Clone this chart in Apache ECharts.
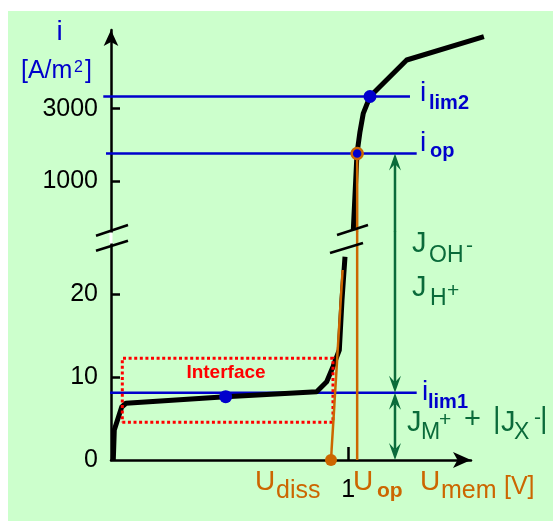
<!DOCTYPE html>
<html><head><meta charset="utf-8">
<script src="https://cdn.jsdelivr.net/npm/echarts@6/dist/echarts.min.js"></script>
<style>html,body{margin:0;padding:0;background:#fff}#c{width:553px;height:521px}</style>
</head><body><div id="c"></div>
<script>
// ---- data ----
const curveLowX = [0.0097, 0.0139, 0.0451, 0.0632, 0.4836, 0.8673, 0.9095, 0.9361, 0.9627, 0.9740, 0.9867];
const curveLowY = [0, 3.61, 6.38, 6.83, 7.62, 8.22, 9.42, 11.23, 13.24, 19.26, 24.47];
const curveHighX = [1.0217, 1.0373, 1.0499, 1.0638, 1.0921, 1.2468, 1.5723];
const curveHighY = [-345, 1765, 2366, 2873, 3337, 4343, 4986];
const iLim1 = 8.1, iOp = 1765, iLim2 = 3337;
const uDiss = 0.9276, uOp = 1.038;
const lim1LineX = [-0.004, 1.289];
const opLineX = [-0.0211, 1.289];
const lim2LineX = [-0.0325, 1.2607];
const ohmicX = [0.9276, 0.9766];
const ohmicY = [0, 22.87];
const boxX = [0.0477, 0.936];
const boxY = [4.54, 12.24];
const dotLim1 = [0.4836, 7.62];
const dotLim2 = [1.0921, 3337];
const fluxArrowX = 1.1975;
const lowTickValues = [10, 20];
const lowLabelValues = [0, 10, 20];
const highTickValues = [1000, 3000];
const xTickValues = [1];
const xMax = 1.518, lowYMax = 26, highYMin = -400, highYMax = 5170;
const lowJoinY = 27.5;

// ---- styles ----
const BLUE = '#0000cc', ORANGE = '#cc6600', GREEN = '#0a6b3a', RED = '#ff0000';
const FONT = '"Liberation Sans", Arial, sans-serif';

const chart = echarts.init(document.getElementById('c'), null, {renderer: 'canvas'});

function zip(xs, ys) { return xs.map((x, i) => [x, ys[i]]); }
function polySeries(grid, pts, style) {
  return {
    type: 'custom', xAxisIndex: grid, yAxisIndex: grid, clip: false, silent: true, animation: false,
    data: pts,
    renderItem: function (params, api) {
      if (params.dataIndex !== 0) return null;
      return {type: 'polyline', shape: {points: pts.map(p => api.coord(p))},
        style: Object.assign({fill: null, lineJoin: 'round', lineCap: 'butt'}, style)};
    }
  };
}
function arrowItem(params, api) {
  const x = api.value(0), ya = api.value(1), yb = api.value(2), ha = api.value(3), hb = api.value(4);
  const a = api.coord([x, ya]), b = api.coord([x, yb]);
  const L = 17, W = 12, N = 0.62;
  const dx = b[0] - a[0], dy = b[1] - a[1], len = Math.hypot(dx, dy);
  const ux = dx / len, uy = dy / len, nx = -uy, ny = ux;
  function head(p, dx2, dy2) {
    return {type: 'polygon', shape: {points: [
      [p[0], p[1]],
      [p[0] - dx2 * L + nx * W / 2, p[1] - dy2 * L + ny * W / 2],
      [p[0] - dx2 * L * N, p[1] - dy2 * L * N],
      [p[0] - dx2 * L - nx * W / 2, p[1] - dy2 * L - ny * W / 2]
    ]}, style: {fill: GREEN}};
  }
  const children = [];
  let s = a, e = b;
  if (ha) { children.push(head(a, -ux, -uy)); s = [a[0] + ux * L * N, a[1] + uy * L * N]; }
  if (hb) { children.push(head(b, ux, uy)); e = [b[0] - ux * L * N, b[1] - uy * L * N]; }
  children.unshift({type: 'line', shape: {x1: s[0], y1: s[1], x2: e[0], y2: e[1]}, style: {stroke: GREEN, lineWidth: 2.5}});
  return {type: 'group', children: children};
}
function T(text, x, y, size, color, weight, align) {
  return {type: 'text', x: x, y: y, z: 100, silent: true, style: {
    text: text, fill: color, fontSize: size, fontFamily: FONT, fontWeight: weight || 'normal',
    align: align || 'left', verticalAlign: 'middle'}};
}
function L(x1, y1, x2, y2, color, w) {
  return {type: 'line', z: 60, silent: true, shape: {x1: x1, y1: y1, x2: x2, y2: y2}, style: {stroke: color, lineWidth: w}};
}

const axisLineStyle = {color: '#000', width: 2.5};
const tickLabel = {fontSize: 25, color: '#000', fontFamily: FONT, formatter: v => String(v)};

const option = {
  backgroundColor: '#ccffcc',
  animation: false,
  grid: [
    {left: 111, top: 244, width: 360, height: 216},
    {left: 111, top: 30, width: 360, height: 202}
  ],
  xAxis: [
    {gridIndex: 0, type: 'value', min: 0, max: xMax,
      axisLine: {show: true, lineStyle: axisLineStyle, symbol: ['none', 'arrow'], symbolSize: [12, 18]},
      axisTick: {show: true, customValues: xTickValues, inside: true, length: 13, lineStyle: {color: '#000', width: 2.5}},
      axisLabel: Object.assign({customValues: xTickValues, margin: 18}, tickLabel),
      splitLine: {show: false}},
    {gridIndex: 1, type: 'value', min: 0, max: xMax, show: false, splitLine: {show: false}}
  ],
  yAxis: [
    {gridIndex: 0, type: 'value', min: 0, max: lowYMax,
      axisLine: {show: true, lineStyle: axisLineStyle},
      axisTick: {show: true, customValues: lowTickValues, inside: true, length: 9, lineStyle: {color: '#000', width: 2.5}},
      axisLabel: Object.assign({customValues: lowLabelValues, margin: 13}, tickLabel),
      splitLine: {show: false}},
    {gridIndex: 1, type: 'value', min: highYMin, max: highYMax,
      axisLine: {show: true, lineStyle: axisLineStyle, symbol: ['none', 'arrow'], symbolSize: [11, 16]},
      axisTick: {show: true, customValues: highTickValues, inside: true, length: 9, lineStyle: {color: '#000', width: 2.5}},
      axisLabel: Object.assign({customValues: highTickValues, margin: 13}, tickLabel),
      splitLine: {show: false}}
  ],
  series: [
    polySeries(0, [[lim1LineX[0], iLim1], [lim1LineX[1], iLim1]], {stroke: BLUE, lineWidth: 2.5}),
    polySeries(1, [[opLineX[0], iOp], [opLineX[1], iOp]], {stroke: BLUE, lineWidth: 2.5}),
    polySeries(1, [[lim2LineX[0], iLim2], [lim2LineX[1], iLim2]], {stroke: BLUE, lineWidth: 2.5}),
    polySeries(0, zip(curveLowX, curveLowY), {stroke: '#000', lineWidth: 5}),
    polySeries(1, zip(curveHighX, curveHighY), {stroke: '#000', lineWidth: 5}),
    polySeries(0, [[boxX[0], boxY[0]], [boxX[1], boxY[0]], [boxX[1], boxY[1]], [boxX[0], boxY[1]], [boxX[0], boxY[0]]],
      {stroke: RED, lineWidth: 3, lineDash: [3, 2.6], lineJoin: 'miter'}),
    polySeries(0, zip(ohmicX, ohmicY), {stroke: ORANGE, lineWidth: 2.5}),
    polySeries(0, [[uOp, 0], [uOp, lowJoinY]], {stroke: ORANGE, lineWidth: 2.5}),
    polySeries(1, [[uOp, highYMin], [uOp, iOp]], {stroke: ORANGE, lineWidth: 2.5}),
    {type: 'custom', xAxisIndex: 1, yAxisIndex: 1, clip: false, silent: true, renderItem: arrowItem,
      data: [[fluxArrowX, iOp, highYMin, 1, 0]]},
    {type: 'custom', xAxisIndex: 0, yAxisIndex: 0, clip: false, silent: true, renderItem: arrowItem,
      data: [[fluxArrowX, lowJoinY, iLim1, 0, 1], [fluxArrowX, iLim1, 0, 1, 1]]},
    {type: 'scatter', xAxisIndex: 0, yAxisIndex: 0, clip: false, silent: true, symbolSize: 13,
      itemStyle: {color: BLUE, opacity: 1}, data: [dotLim1]},
    {type: 'scatter', xAxisIndex: 0, yAxisIndex: 0, clip: false, silent: true, symbolSize: 12,
      itemStyle: {color: ORANGE, opacity: 1}, data: [[uDiss, 0]]},
    {type: 'scatter', xAxisIndex: 1, yAxisIndex: 1, clip: false, silent: true, symbolSize: 13,
      itemStyle: {color: BLUE, opacity: 1}, data: [dotLim2]},
    {type: 'scatter', xAxisIndex: 1, yAxisIndex: 1, clip: false, silent: true, symbolSize: 11,
      itemStyle: {color: BLUE, borderColor: ORANGE, borderWidth: 2.5, opacity: 1}, data: [[uOp, iOp]]}
  ],
  graphic: {elements: [
    {type: 'rect', z: 100, silent: true, shape: {x: 0, y: 0, width: 553, height: 11}, style: {fill: '#fff'}},
    {type: 'rect', z: 100, silent: true, shape: {x: 0, y: 0, width: 8, height: 521}, style: {fill: '#fff'}},
    L(111, 232.5, 111, 243.5, '#fff', 3),
    L(96, 235.7, 128, 225, '#000', 2.5),
    L(96, 250.7, 128, 240.7, '#000', 2.5),
    L(337, 235, 368, 225, '#000', 2.5),
    L(330, 253, 363, 243, '#000', 2.5),
    T('i', 59.5, 32, 28, BLUE, 'normal', 'center'),
    T('[A/m', 21, 71.3, 25, BLUE),
    T('2', 74, 67.4, 16, BLUE),
    T(']', 85, 71.3, 25, BLUE),
    T('i', 420, 93, 28, BLUE), T('lim2', 429, 103, 20, BLUE, 'bold'),
    T('i', 420, 143, 28, BLUE), T('op', 430, 151, 20, BLUE, 'bold'),
    T('i', 422, 392, 28, BLUE), T('lim1', 428, 402, 20, BLUE, 'bold'),
    T('J', 412, 244, 29, GREEN), T('OH', 429, 255.5, 23, GREEN), T('-', 466, 246.5, 21, GREEN),
    T('J', 412, 287.5, 29, GREEN), T('H', 430, 298.5, 23, GREEN), T('+', 447, 291, 21, GREEN),
    T('J', 407, 423, 29, GREEN), T('M', 421, 432.5, 23, GREEN), T('+', 439, 420, 21, GREEN),
    T('+', 464, 420, 29, GREEN), T('|', 493, 419.5, 29, GREEN), T('J', 501, 423, 29, GREEN),
    T('X', 514, 432.5, 23, GREEN), T('-', 534, 418.5, 21, GREEN), T('|', 540, 419.5, 29, GREEN),
    T('U', 255, 482.5, 28, ORANGE), T('diss', 276, 491, 25, ORANGE),
    T('U', 353, 482.5, 28, ORANGE), T('op', 377, 491.3, 21, ORANGE, 'bold'),
    T('U', 420, 482.5, 28, ORANGE), T('mem', 441, 491, 25, ORANGE),
    T('[V]', 504, 487, 25, ORANGE),
    T('Interface', 226, 373, 19, RED, 'bold', 'center')
  ]}
};
chart.setOption(option);
</script></body></html>
